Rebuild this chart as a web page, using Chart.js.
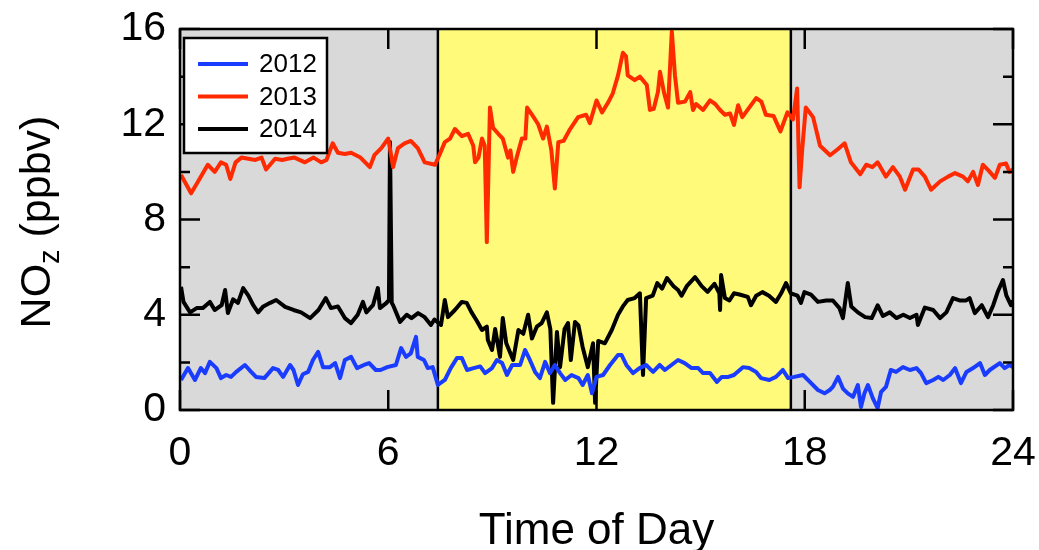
<!DOCTYPE html>
<html>
<head>
<meta charset="utf-8">
<script src="https://cdn.jsdelivr.net/npm/chart.js@4.4.1/dist/chart.umd.min.js"></script>
<style>
html, body { margin: 0; padding: 0; background: #fff; }
</style>
</head>
<body>
<canvas id="myChart" width="1039" height="550"></canvas>
<script>
// time of day (h) and NOz (ppbv)
var hours2012 = [0.03,0.23,0.43,0.6,0.72,0.86,1.05,1.18,1.33,1.47,
    1.62,1.87,2.05,2.19,2.43,2.68,2.83,2.97,3.17,3.27,
    3.4,3.54,3.69,3.83,3.98,4.12,4.32,4.47,4.61,4.75,
    4.93,5.1,5.3,5.45,5.64,5.78,5.97,6.22,6.37,6.51,
    6.65,6.8,6.85,7.03,7.14,7.28,7.43,7.63,7.8,7.98,
    8.12,8.27,8.46,8.65,8.79,8.99,9.13,9.28,9.42,9.57,
    9.8,9.94,10.08,10.23,10.37,10.52,10.66,10.8,10.95,11.1,
    11.28,11.48,11.6,11.75,11.87,12.0,12.19,12.39,12.62,12.72,
    12.86,13.05,13.24,13.43,13.63,13.82,13.97,14.16,14.35,14.54,
    14.74,14.93,15.07,15.27,15.47,15.61,15.8,15.96,16.22,16.4,
    16.6,16.74,16.98,17.17,17.37,17.52,17.7,17.95,18.14,18.38,
    18.57,18.72,18.81,18.96,19.1,19.24,19.39,19.53,19.62,19.72,
    19.82,19.96,20.1,20.2,20.34,20.48,20.63,20.83,21.03,21.22,
    21.35,21.5,21.7,21.85,21.99,22.18,22.33,22.5,22.66,22.85,
    23.05,23.19,23.33,23.62,23.76,23.9,24.0];
var noz2012 = [1.26,1.76,1.26,1.76,1.55,2.02,1.76,1.34,1.47,1.39,
    1.6,1.89,1.6,1.39,1.34,1.76,1.68,1.39,1.89,1.68,
    1.05,1.5,1.6,2.1,2.44,1.8,1.8,1.97,1.34,2.1,
    2.23,1.76,1.89,1.97,1.68,1.68,1.8,1.89,2.6,2.23,
    2.38,3.07,2.23,2.1,1.76,1.8,1.05,1.26,1.76,2.18,
    2.18,1.68,1.76,1.83,1.55,1.76,2.1,1.97,1.47,1.89,
    1.89,2.52,2.1,1.6,1.34,2.02,1.55,1.89,1.55,1.26,
    1.47,1.34,1.05,1.47,0.7,1.39,1.47,1.89,2.31,2.31,
    1.89,1.55,1.76,1.89,1.6,1.89,1.68,1.89,2.1,1.97,
    1.76,1.76,1.55,1.55,1.18,1.39,1.39,1.47,1.8,1.76,
    1.6,1.34,1.26,1.39,1.68,1.34,1.39,1.47,1.19,0.84,
    0.7,0.84,0.97,1.39,0.9,0.7,0.55,1.05,0.13,0.7,
    1.05,0.5,0.08,0.76,0.97,1.68,1.6,1.8,1.68,1.76,
    1.55,1.13,1.26,1.39,1.26,1.47,1.76,1.13,1.6,1.76,
    1.97,1.47,1.68,1.97,1.76,1.89,1.8];

var hours2013 = [0.03,0.32,0.52,0.8,1.0,1.18,1.33,1.45,1.6,1.77,
    1.97,2.17,2.35,2.48,2.74,2.95,3.1,3.3,3.6,3.85,
    4.07,4.22,4.4,4.55,4.75,4.93,5.2,5.47,5.6,5.8,
    6.0,6.14,6.28,6.47,6.65,6.85,7.05,7.35,7.5,7.63,
    7.78,7.92,8.12,8.3,8.45,8.5,8.6,8.7,8.78,8.84,
    8.88,8.93,9.02,9.17,9.3,9.45,9.52,9.6,9.7,9.85,
    9.95,10.0,10.14,10.32,10.46,10.57,10.7,10.8,10.9,11.05,
    11.24,11.47,11.7,11.81,12.0,12.16,12.33,12.47,12.62,12.76,
    12.85,12.9,13.1,13.25,13.45,13.54,13.65,13.77,13.83,13.95,
    14.06,14.17,14.26,14.35,14.55,14.7,14.78,14.87,15.07,15.27,
    15.42,15.56,15.7,15.85,15.96,16.08,16.2,16.4,16.6,16.75,
    16.88,17.1,17.3,17.5,17.66,17.78,17.85,17.93,18.03,18.24,
    18.44,18.73,18.95,19.15,19.33,19.6,19.77,19.95,20.1,20.34,
    20.54,20.74,20.89,21.12,21.28,21.46,21.64,21.9,22.13,22.33,
    22.56,22.7,22.85,22.99,23.13,23.3,23.48,23.62,23.8,23.9,
    24.0];
var noz2013 = [9.87,9.1,9.6,10.3,10.0,10.4,10.3,9.7,10.4,10.6,
    10.55,10.5,10.6,10.1,10.55,10.5,10.55,10.6,10.4,10.6,
    10.4,10.5,11.2,10.8,10.75,10.8,10.6,10.2,10.7,11.0,
    11.4,10.2,11.0,11.2,11.3,11.0,10.4,10.3,10.8,11.25,
    11.4,11.8,11.5,11.6,11.1,10.4,10.6,11.4,11.1,7.05,
    9.5,12.7,11.85,11.6,11.4,10.6,10.9,10.0,10.6,11.4,
    11.4,12.7,12.4,12.0,11.4,11.9,10.9,9.3,11.25,11.3,
    11.8,12.3,12.4,12.05,13.0,12.5,12.9,13.3,14.05,15.0,
    14.85,14.05,13.85,14.0,13.65,12.6,12.65,13.35,14.2,13.3,
    12.7,15.9,14.05,12.9,12.95,13.35,12.6,12.85,12.6,13.0,
    12.85,12.6,12.4,12.45,11.97,12.8,12.3,12.7,13.1,12.95,
    12.4,12.35,11.7,12.5,12.2,13.5,9.35,11.0,12.7,12.3,
    11.1,10.7,10.95,11.2,10.4,9.9,10.3,10.2,10.4,9.8,
    10.2,9.8,9.25,10.1,10.1,9.8,9.25,9.6,9.8,9.95,
    9.8,9.6,10.0,9.45,10.3,10.05,9.75,10.3,10.35,10.0,
    10.1];

var hours2014 = [0.03,0.1,0.29,0.48,0.66,0.86,1.0,1.2,1.3,1.38,
    1.53,1.67,1.82,1.97,2.11,2.25,2.4,2.6,2.77,3.03,
    3.27,3.49,3.75,3.99,4.2,4.35,4.55,4.75,4.93,5.12,
    5.27,5.37,5.56,5.7,5.76,5.95,6.02,6.05,6.1,6.14,
    6.34,6.53,6.67,6.86,7.05,7.23,7.33,7.52,7.63,7.72,
    7.92,8.12,8.26,8.4,8.55,8.7,8.84,8.87,8.99,9.08,
    9.22,9.3,9.4,9.6,9.75,9.89,10.03,10.14,10.28,10.42,
    10.57,10.67,10.75,10.86,10.95,11.08,11.18,11.26,11.38,11.48,
    11.6,11.75,11.9,11.96,12.05,12.24,12.44,12.62,12.76,12.9,
    13.1,13.25,13.34,13.43,13.62,13.75,13.89,14.03,14.22,14.35,
    14.45,14.6,14.84,15.03,15.2,15.4,15.54,15.56,15.59,15.7,
    15.83,15.96,16.12,16.36,16.45,16.6,16.78,16.97,17.17,17.32,
    17.46,17.6,17.79,17.89,17.99,18.18,18.38,18.62,18.81,19.0,
    19.1,19.24,19.34,19.53,19.74,19.93,20.1,20.25,20.45,20.64,
    20.84,21.03,21.22,21.26,21.46,21.7,21.9,22.08,22.27,22.46,
    22.65,22.75,22.9,23.1,23.28,23.43,23.57,23.71,23.81,23.94,
    24.0];
var noz2014 = [5.17,4.54,4.1,4.28,4.28,4.54,4.2,4.4,5.04,4.07,
    4.65,4.5,5.12,4.8,4.4,4.1,4.35,4.5,4.62,4.33,
    4.2,4.1,3.86,4.2,4.7,4.28,4.35,3.86,3.65,4.0,
    4.54,4.1,4.4,5.12,4.28,4.5,4.62,11.25,4.5,4.4,
    3.7,4.0,3.86,4.07,3.9,3.57,3.8,3.57,4.62,3.9,
    4.2,4.54,4.5,4.1,3.75,3.36,3.5,2.94,2.52,3.4,
    2.23,3.86,2.8,2.1,3.36,3.2,4.0,3.0,3.5,3.65,
    4.1,3.4,0.3,3.28,1.8,3.4,3.65,2.1,3.7,3.55,
    2.65,1.8,2.8,0.3,2.9,2.8,3.36,4.0,4.35,4.62,
    4.7,4.9,1.47,4.7,4.8,5.33,5.1,5.54,5.2,5.04,
    4.8,5.2,5.58,5.2,4.96,5.3,4.9,4.2,5.67,4.7,
    4.6,4.9,4.85,4.75,4.4,4.8,4.95,4.8,4.54,4.9,
    5.33,4.9,4.8,4.5,4.95,4.85,4.54,4.6,4.6,4.28,
    3.86,5.33,4.35,4.1,3.9,3.86,4.4,3.95,4.1,3.86,
    4.0,3.86,4.0,3.57,4.3,4.2,3.86,4.1,4.7,4.6,
    4.6,4.7,4.07,4.4,3.9,4.4,5.0,5.46,4.8,4.4,
    4.6];

var years = ['2012', '2013', '2014'];
var lineColors = ['#1a3cff', '#ff2a00', '#000000'];

// daytime band (yellow)
var sunrise = 7.43;
var sunset = 17.6;

var xTickVals = [0, 6, 12, 18, 24];
var yMajorVals = [0, 4, 8, 12, 16];
var yMinorVals = [2, 6, 10, 14];

var FONT = '"Liberation Sans", Arial, sans-serif';

function toPoints(h, v) {
    return h.map(function (t, i) { return { x: t, y: v[i] }; });
}

// keep the plot box fixed, labels may hang over the edges
function noPad(s) {
    s.paddingTop = 0; s.paddingBottom = 0; s.paddingLeft = 0; s.paddingRight = 0;
}

// gray night, yellow day, plus the two boundary lines
var backdrop = {
    id: 'backdrop',
    beforeDatasetsDraw: function (chart) {
        var ctx = chart.ctx, a = chart.chartArea, x = chart.scales.x;
        var x1 = x.getPixelForValue(sunrise), x2 = x.getPixelForValue(sunset);
        ctx.save();
        ctx.fillStyle = '#d9d9d9';
        ctx.fillRect(a.left, a.top, a.right - a.left, a.bottom - a.top);
        ctx.fillStyle = '#fffa7a';
        ctx.fillRect(x1, a.top, x2 - x1, a.bottom - a.top);
        ctx.strokeStyle = '#000';
        ctx.lineWidth = 2.5;
        ctx.beginPath();
        ctx.moveTo(x1, a.top); ctx.lineTo(x1, a.bottom);
        ctx.moveTo(x2, a.top); ctx.lineTo(x2, a.bottom);
        ctx.stroke();
        ctx.restore();
    }
};

// frame, inside ticks, legend box and axis titles
var decor = {
    id: 'decor',
    afterDatasetsDraw: function (chart) {
        var ctx = chart.ctx, a = chart.chartArea;
        var xs = chart.scales.x, ys = chart.scales.y;
        ctx.save();
        ctx.strokeStyle = '#000';
        ctx.lineWidth = 2.5;
        ctx.strokeRect(a.left, a.top, a.right - a.left, a.bottom - a.top);

        ctx.beginPath();
        xTickVals.forEach(function (v) {
            var px = xs.getPixelForValue(v);
            ctx.moveTo(px, a.bottom); ctx.lineTo(px, a.bottom - 20);
            ctx.moveTo(px, a.top); ctx.lineTo(px, a.top + 20);
        });
        yMajorVals.forEach(function (v) {
            var py = ys.getPixelForValue(v);
            ctx.moveTo(a.left, py); ctx.lineTo(a.left + 20, py);
            ctx.moveTo(a.right, py); ctx.lineTo(a.right - 20, py);
        });
        yMinorVals.forEach(function (v) {
            var py = ys.getPixelForValue(v);
            ctx.moveTo(a.left, py); ctx.lineTo(a.left + 10, py);
            ctx.moveTo(a.right, py); ctx.lineTo(a.right - 10, py);
        });
        ctx.stroke();

        // legend
        var lx = a.left + 4, ly = a.top + 9;
        ctx.fillStyle = '#fff';
        ctx.fillRect(lx, ly, 143, 115);
        ctx.strokeRect(lx, ly, 143, 115);
        ctx.font = '26px ' + FONT;
        ctx.textBaseline = 'middle';
        chart.data.datasets.forEach(function (ds, i) {
            var yy = ly + 26 + i * 32.5;
            ctx.strokeStyle = ds.borderColor;
            ctx.lineWidth = 4;
            ctx.beginPath();
            ctx.moveTo(lx + 14, yy); ctx.lineTo(lx + 64, yy);
            ctx.stroke();
            ctx.fillStyle = '#000';
            ctx.fillText(ds.label, lx + 75, yy + 1);
        });

        // x title
        ctx.fillStyle = '#000';
        ctx.font = '44px ' + FONT;
        ctx.textAlign = 'center';
        ctx.textBaseline = 'alphabetic';
        ctx.fillText('Time of Day', (a.left + a.right) / 2, 544);

        // y title with subscript z
        var big = '43px ' + FONT, small = '29px ' + FONT;
        ctx.font = big;
        var w1 = ctx.measureText('NO').width, w3 = ctx.measureText(' (ppbv)').width;
        ctx.font = small;
        var w2 = ctx.measureText('z').width;
        var total = w1 + w2 + w3;
        ctx.translate(50, 222);
        ctx.rotate(-Math.PI / 2);
        ctx.textAlign = 'left';
        var sx = -total / 2;
        ctx.font = big;
        ctx.fillText('NO', sx, 0);
        ctx.font = small;
        ctx.fillText('z', sx + w1, 9);
        ctx.font = big;
        ctx.fillText(' (ppbv)', sx + w1 + w2, 0);
        ctx.restore();
    }
};

var data = {
    datasets: [
        { label: years[0], data: toPoints(hours2012, noz2012), borderColor: lineColors[0] },
        { label: years[1], data: toPoints(hours2013, noz2013), borderColor: lineColors[1] },
        { label: years[2], data: toPoints(hours2014, noz2014), borderColor: lineColors[2] }
    ]
};

var config = {
    type: 'line',
    data: data,
    options: {
        responsive: false,
        animation: false,
        layout: { padding: { top: 29, right: 26, left: 0, bottom: 0 } },
        elements: {
            line: { borderWidth: 4, tension: 0, borderJoinStyle: 'round' },
            point: { radius: 0, hoverRadius: 0 }
        },
        scales: {
            x: {
                type: 'linear',
                min: 0,
                max: 24,
                afterBuildTicks: function (s) { s.ticks = xTickVals.map(function (v) { return { value: v }; }); },
                afterFit: function (s) { s.height = 140; noPad(s); },
                grid: { display: false, drawTicks: false },
                border: { display: false },
                ticks: { color: '#000', padding: 19, maxRotation: 0, font: { size: 41, family: FONT } }
            },
            y: {
                min: 0,
                max: 16,
                afterBuildTicks: function (s) { s.ticks = yMajorVals.map(function (v) { return { value: v }; }); },
                afterFit: function (s) { s.width = 180; noPad(s); },
                grid: { display: false, drawTicks: false },
                border: { display: false },
                ticks: { color: '#000', padding: 14, font: { size: 41, family: FONT } }
            }
        },
        plugins: {
            legend: { display: false },
            tooltip: { enabled: false }
        }
    },
    plugins: [backdrop, decor]
};

var myChart = new Chart(document.getElementById('myChart').getContext('2d'), config);
</script>
</body>
</html>
